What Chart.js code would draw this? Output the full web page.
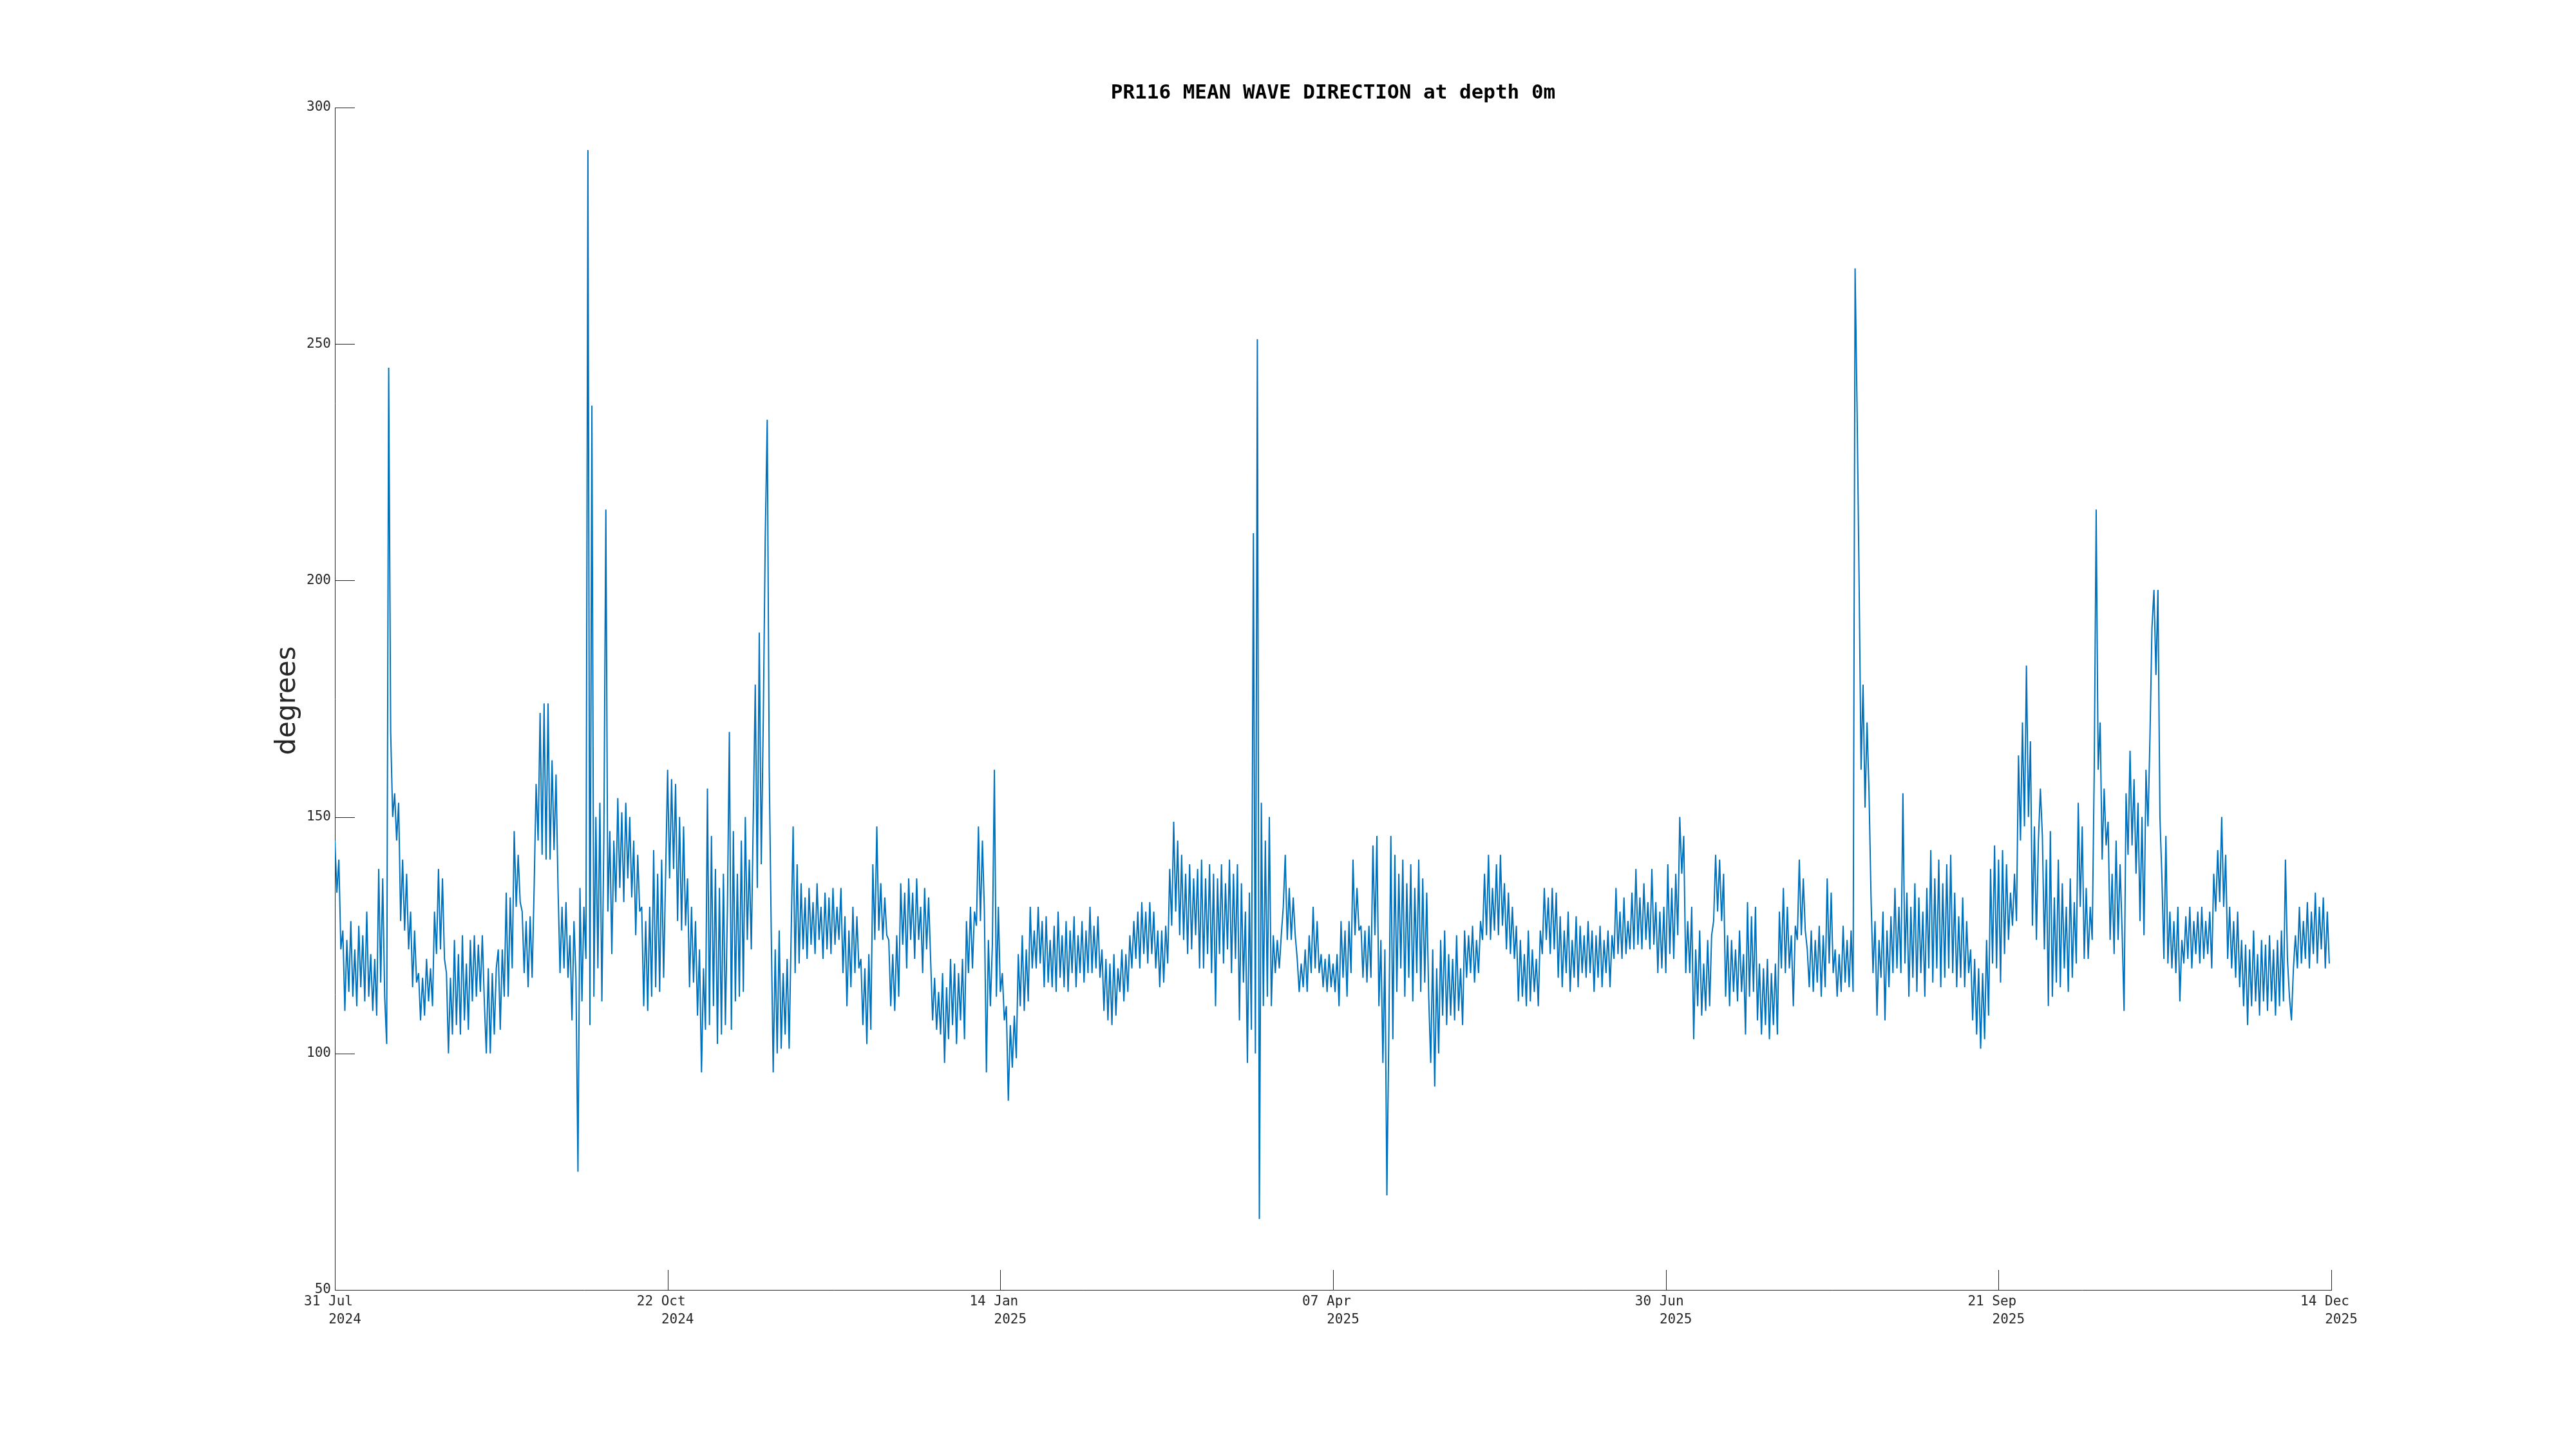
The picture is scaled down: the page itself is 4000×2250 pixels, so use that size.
<!DOCTYPE html>
<html>
<head>
<meta charset="utf-8">
<script src="https://cdn.jsdelivr.net/npm/chart.js@4.4.1/dist/chart.umd.min.js"></script>
<style>
  html, body { margin: 0; padding: 0; background: #ffffff; }
  #wrap { width: 4000px; height: 2250px; }
</style>
</head>
<body>
<div id="wrap"><canvas id="c" width="4000" height="2250"></canvas></div>
<script>
// ---- data ----
const chartTitle = 'PR116 MEAN WAVE DIRECTION at depth 0m';
const yAxisLabel = 'degrees';
const xMinDay = 0;          // 31 Jul 2024
const xMaxDay = 501;        // 14 Dec 2025
const sampleStepDays = 0.5; // spacing between samples (days)
const xTickDays = [0, 83.5, 167, 250.5, 334, 417.5, 501];
const xTickDates = ['31 Jul', '22 Oct', '14 Jan', '07 Apr', '30 Jun', '21 Sep', '14 Dec'];
const xTickYears = ['2024', '2024', '2025', '2025', '2025', '2025', '2025'];
const yTickValues = [50, 100, 150, 200, 250, 300];

// mean wave direction (degrees), one value every 0.5 day from 31 Jul 2024
const meanWaveDirection = [
145,134,141,122,126,109,124,113,128,112,
122,110,127,114,125,111,130,112,121,109,
120,108,139,115,137,112,102,245,168,150,
155,145,153,128,141,126,138,122,130,114,
126,115,117,107,116,108,120,111,118,110,
130,121,139,122,137,120,117,100,116,104,
124,106,121,104,125,107,119,105,124,111,
125,112,123,113,125,111,100,118,100,117,
104,118,122,105,122,112,134,112,133,118,
147,131,142,132,130,117,128,114,129,116,
135,157,145,172,142,174,141,174,141,162,
143,159,135,117,131,118,132,116,125,107,
128,116,75,135,111,131,120,291,106,237,
112,150,118,153,111,145,215,130,147,121,
145,132,154,135,151,132,153,137,150,133,
145,125,142,130,131,110,128,109,131,112,
143,114,138,113,141,116,138,160,137,158,
139,157,128,150,126,148,127,137,114,131,
115,128,108,122,96,118,105,156,106,146,
110,139,102,135,104,138,106,130,168,105,
147,111,138,112,145,113,150,124,141,122,
150,178,135,189,140,170,209,234,160,126,
96,122,100,126,101,117,104,120,101,125,
148,117,140,119,136,122,133,120,135,123,
132,121,136,124,131,120,134,122,133,121,
135,123,131,124,135,117,129,110,126,114,
131,117,129,118,120,106,118,102,121,105,
140,124,148,126,136,124,133,125,124,110,
121,109,125,112,136,123,134,118,137,124,
134,120,137,124,131,117,135,122,133,120,
107,116,105,113,104,117,98,114,103,120,
106,119,102,117,107,120,103,128,117,131,
118,130,127,148,128,145,130,96,124,110,
123,160,112,131,113,117,107,110,90,106,
97,108,99,121,110,125,109,122,111,131,
118,126,118,131,119,128,114,129,115,124,
114,127,113,130,116,125,114,128,113,126,
117,129,114,125,117,128,115,126,117,131,
117,127,118,129,116,122,109,120,107,119,
106,121,108,118,113,122,111,121,113,125,
118,128,120,130,118,132,121,130,119,132,
121,130,118,126,114,126,115,127,119,139,
127,149,130,145,125,142,124,138,121,140,
122,137,125,139,118,141,118,137,121,140,
117,138,110,137,121,140,119,136,122,141,
117,138,120,140,107,136,115,130,98,134,
105,210,100,251,65,153,110,145,112,150,
110,125,117,124,118,125,131,142,124,135,
124,133,125,120,113,119,114,122,113,125,
117,131,118,128,117,121,114,120,113,121,
114,119,113,121,110,128,116,126,112,128,
117,141,125,135,126,127,116,126,115,127,
116,144,125,146,110,124,98,122,70,105,
146,103,142,113,138,118,141,112,136,116,
140,111,135,117,141,113,137,115,134,112,
98,122,93,118,100,124,108,126,106,121,
108,120,107,125,109,118,106,126,116,125,
117,127,115,124,117,128,124,138,125,142,
124,135,126,140,125,142,127,136,122,134,
121,131,120,127,111,124,112,121,110,126,
111,122,113,120,110,126,121,135,124,133,
121,135,122,134,116,129,114,126,117,130,
113,124,116,129,114,127,117,125,116,128,
117,126,113,125,116,127,114,124,117,126,
114,125,120,135,121,130,120,133,121,128,
122,134,122,139,123,133,122,136,124,132,
122,139,123,132,117,130,118,131,117,140,
121,135,120,138,125,150,138,146,117,128,
117,131,103,122,110,126,108,119,109,124,
110,125,128,142,130,141,128,138,112,125,
110,124,113,122,111,126,113,121,104,132,
112,129,113,131,107,119,104,118,106,120,
103,117,106,119,104,130,118,135,117,131,
118,125,110,127,124,141,125,137,126,122,
114,126,113,124,115,127,112,125,114,137,
119,134,117,122,112,121,113,127,115,124,
114,126,113,266,236,200,160,178,152,170,
155,133,117,128,108,124,116,130,107,126,
114,129,117,135,118,131,117,155,119,134,
112,131,116,136,113,133,117,130,112,135,
118,143,115,137,118,141,114,136,116,140,
118,142,117,134,114,129,116,133,114,128,
117,122,107,120,104,118,101,117,103,124,
108,139,119,144,118,141,115,143,121,140,
124,134,127,138,128,163,145,170,148,182,
150,166,127,148,124,145,156,146,122,141,
110,147,112,133,115,141,114,136,118,131,
113,137,116,132,119,153,131,148,120,135,
120,131,124,159,215,160,170,141,156,144,
149,124,138,121,145,124,140,126,109,155,
142,164,144,158,138,153,128,150,125,160,
148,167,190,198,180,198,150,137,120,146,
119,130,118,128,117,131,111,124,119,129,
120,131,118,128,121,130,119,131,120,128,
121,130,118,138,130,143,132,150,131,142,
120,131,118,128,116,130,114,124,110,123,
106,122,110,126,111,121,108,124,111,123,
109,125,111,122,108,124,110,126,111,141,
120,112,107,118,125,118,131,119,128,120,
132,118,130,121,134,119,131,122,133,118,
130,119
];

// ---- chart ----
const INK = '#262626';
const points = meanWaveDirection.map((v, i) => ({ x: xMinDay + i * sampleStepDays, y: v }));

const decor = {
  id: 'decor',
  afterDraw(chart) {
    const { ctx, chartArea: a, scales: { x, y } } = chart;
    ctx.save();
    ctx.strokeStyle = INK;
    ctx.lineWidth = 1;
    const tickLen = 31;
    // inward y ticks
    yTickValues.forEach(v => {
      const py = Math.round(y.getPixelForValue(v)) + 0.5;
      ctx.beginPath(); ctx.moveTo(a.left, py); ctx.lineTo(a.left + tickLen, py); ctx.stroke();
    });
    // inward x ticks
    xTickDays.forEach(d => {
      const px = Math.round(x.getPixelForValue(d)) + 0.5;
      ctx.beginPath(); ctx.moveTo(px, a.bottom); ctx.lineTo(px, a.bottom - tickLen); ctx.stroke();
    });
    // x tick labels (two lines)
    ctx.fillStyle = INK;
    ctx.font = '21px "DejaVu Sans Mono"';
    ctx.textAlign = 'center';
    ctx.textBaseline = 'alphabetic';
    xTickDays.forEach((d, i) => {
      const px = x.getPixelForValue(d);
      ctx.fillText(xTickDates[i], px - 10, a.bottom + 24);
      ctx.fillText(xTickYears[i], px + 15.5, a.bottom + 52);
    });
    // title
    ctx.fillStyle = '#000000';
    ctx.font = 'bold 31px "DejaVu Sans Mono"';
    ctx.fillText(chartTitle, (a.left + a.right) / 2, 153);
    // y axis label
    ctx.fillStyle = INK;
    ctx.translate(447, (a.top + a.bottom) / 2 + 3);
    ctx.rotate(-Math.PI / 2);
    ctx.font = '42px "DejaVu Sans"';
    ctx.textBaseline = 'middle';
    ctx.fillText(yAxisLabel, 0, 0);
    ctx.restore();
  }
};

new Chart(document.getElementById('c'), {
  type: 'line',
  data: {
    datasets: [{
      data: points,
      borderColor: '#0072BD',
      borderWidth: 2,
      borderJoinStyle: 'bevel',
      pointRadius: 0,
      tension: 0,
      fill: false
    }]
  },
  options: {
    responsive: false,
    animation: false,
    devicePixelRatio: 1,
    layout: { padding: { left: 0, top: 167, right: 380, bottom: 247 } },
    plugins: { legend: { display: false }, tooltip: { enabled: false }, title: { display: false } },
    scales: {
      x: {
        type: 'linear',
        min: xMinDay,
        max: xMaxDay,
        grid: { display: false, drawTicks: false },
        border: { display: true, color: INK, width: 1 },
        ticks: { display: false },
        afterFit(s) { s.height = 0; }
      },
      y: {
        type: 'linear',
        min: 50,
        max: 300,
        grid: { display: false, drawTicks: false },
        border: { display: true, color: INK, width: 1 },
        ticks: {
          stepSize: 50,
          padding: 6,
          color: INK,
          font: { family: 'DejaVu Sans Mono', size: 21 }
        },
        afterFit(s) { s.width = 520; }
      }
    }
  },
  plugins: [decor]
});
</script>
</body>
</html>
